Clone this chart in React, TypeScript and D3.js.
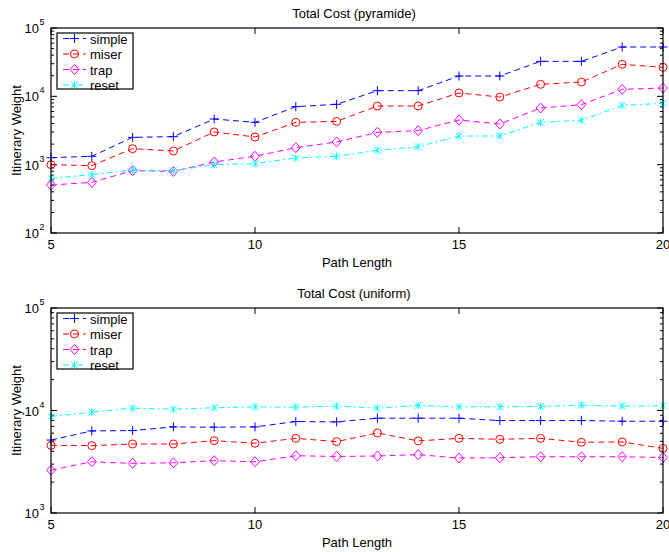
import React from "react";
import * as d3 from "d3";

const pathLength = [5, 6, 7, 8, 9, 10, 11, 12, 13, 14, 15, 16, 17, 18, 19, 20];

const pyrSimple = [1265, 1325, 2510, 2570, 4660, 4160, 7060, 7640, 12100, 12100, 19850, 19850, 32500, 32500, 52700, 52700];
const pyrMiser = [1000, 967, 1714, 1585, 3010, 2540, 4160, 4300, 7220, 7220, 11200, 9770, 15000, 16200, 29400, 26600];
const pyrTrap = [504, 551, 817, 798, 1094, 1325, 1774, 2150, 2973, 3150, 4500, 3940, 6750, 7550, 12650, 13240];
const pyrReset = [631, 714, 835, 817, 1000, 1035, 1253, 1325, 1622, 1832, 2625, 2625, 4160, 4460, 7380, 7900];

const uniSimple = [5150, 6320, 6370, 6920, 6870, 6920, 7800, 7740, 8410, 8410, 8410, 7980, 7980, 7980, 7860, 7860];
const uniMiser = [4570, 4540, 4710, 4710, 5080, 4790, 5350, 4970, 6040, 5050, 5350, 5240, 5350, 4900, 4930, 4270];
const uniTrap = [2620, 3160, 3050, 3090, 3240, 3160, 3620, 3560, 3600, 3710, 3440, 3460, 3540, 3540, 3540, 3480];
const uniReset = [8730, 9630, 10540, 10300, 10620, 10870, 10790, 11040, 10540, 11200, 10870, 10870, 10950, 11270, 11040, 11120];

const seriesNames = ["simple", "miser", "trap", "reset"];
const xTicks = [5, 10, 15, 20];

const COLORS = ["#0000ff", "#ff0000", "#ff00ff", "#00ffff"];
const DASHES = ["6,4", "6,4", "6,4", "6,3,2,3"];
const MARKERS = ["plus", "circle", "diamond", "star"];
const FONT = "'Liberation Sans', Arial, Helvetica, sans-serif";
const FS = 13;

function Marker({ type, x, y, color }: { type: string; x: number; y: number; color: string }) {
  const p = { stroke: color, fill: "none", strokeWidth: 1 };
  if (type === "plus") {
    return <path d={`M${x - 4.5},${y}H${x + 4.5}M${x},${y - 4.5}V${y + 4.5}`} {...p} />;
  }
  if (type === "circle") {
    return <circle cx={x} cy={y} r={4} {...p} />;
  }
  if (type === "diamond") {
    return <path d={`M${x},${y - 5}L${x + 4.5},${y}L${x},${y + 5}L${x - 4.5},${y}Z`} {...p} />;
  }
  const s = 3.3;
  return (
    <path
      d={`M${x - s},${y - s}L${x + s},${y + s}M${x - s},${y + s}L${x + s},${y - s}M${x},${y - s - 0.5}V${y + s + 0.5}`}
      {...p}
    />
  );
}

function Panel({
  top,
  title,
  domain,
  data,
}: {
  top: number;
  title: string;
  domain: [number, number];
  data: number[][];
}) {
  const left = 51;
  const right = 663;
  const plotTop = top + 28;
  const plotBottom = top + 233;
  const x = d3.scaleLinear().domain([5, 20]).range([left, right]);
  const y = d3.scaleLog().domain(domain).range([plotBottom, plotTop]);

  const decades: number[] = [];
  for (let e = Math.log10(domain[0]); e <= Math.log10(domain[1]) + 1e-9; e++) decades.push(Math.round(e));
  const minors: number[] = [];
  decades.slice(0, -1).forEach((e) => {
    for (let k = 2; k <= 9; k++) minors.push(k * Math.pow(10, e));
  });

  const line = d3
    .line<number>()
    .x((_, i) => x(pathLength[i]))
    .y((d) => y(d));

  const legX = 57;
  const legY = top + 33;
  const legW = 76;
  const legH = 56;

  return (
    <g fontFamily={FONT} fill="#000">
      <text x={(left + right) / 2 - 3} y={top + 18} textAnchor="middle" fontSize={FS}>
        {title}
      </text>
      {xTicks.map((t) => (
        <g key={"xt" + t}>
          <line x1={x(t)} x2={x(t)} y1={plotBottom} y2={plotBottom - 6} stroke="#000" />
          <line x1={x(t)} x2={x(t)} y1={plotTop} y2={plotTop + 6} stroke="#000" />
          <text x={x(t)} y={plotBottom + 16} textAnchor="middle" fontSize={FS}>
            {t}
          </text>
        </g>
      ))}
      {decades.map((e) => (
        <g key={"yd" + e}>
          <line x1={left} x2={left + 6} y1={y(Math.pow(10, e))} y2={y(Math.pow(10, e))} stroke="#000" />
          <line x1={right} x2={right - 6} y1={y(Math.pow(10, e))} y2={y(Math.pow(10, e))} stroke="#000" />
          <text x={left - 12} y={y(Math.pow(10, e)) + 5} textAnchor="end" fontSize={FS}>
            10
          </text>
          <text x={left - 11.5} y={y(Math.pow(10, e)) - 3} textAnchor="start" fontSize={9}>
            {e}
          </text>
        </g>
      ))}
      {minors.map((m) => (
        <g key={"ym" + m}>
          <line x1={left} x2={left + 3} y1={y(m)} y2={y(m)} stroke="#000" />
          <line x1={right} x2={right - 3} y1={y(m)} y2={y(m)} stroke="#000" />
        </g>
      ))}
      {data.map((vals, si) => (
        <g key={"s" + si}>
          <path d={line(vals) || ""} fill="none" stroke={COLORS[si]} strokeWidth={1} strokeDasharray={DASHES[si]} />
          {vals.map((v, i) => (
            <Marker key={i} type={MARKERS[si]} x={x(pathLength[i])} y={y(v)} color={COLORS[si]} />
          ))}
        </g>
      ))}
      <rect x={left} y={plotTop} width={right - left} height={plotBottom - plotTop} fill="none" stroke="#000" strokeWidth={1.2} />
      <rect x={legX} y={legY} width={legW} height={legH} fill="#fff" stroke="#000" strokeWidth={1.2} />
      {seriesNames.map((n, i) => {
        const ly = legY + 5.5 + i * 15.5;
        return (
          <g key={"lg" + n}>
            <line x1={legX + 6} x2={legX + 29} y1={ly} y2={ly} stroke={COLORS[i]} strokeDasharray={DASHES[i]} />
            <Marker type={MARKERS[i]} x={legX + 17.5} y={ly} color={COLORS[i]} />
            <text x={legX + 33} y={ly + 5} fontSize={FS}>
              {n}
            </text>
          </g>
        );
      })}
      <text x={(left + right) / 2} y={plotBottom + 34} textAnchor="middle" fontSize={FS}>
        Path Length
      </text>
      <text
        transform={`translate(${21},${(plotTop + plotBottom) / 2}) rotate(-90)`}
        textAnchor="middle"
        fontSize={FS}
      >
        Itinerary Weight
      </text>
    </g>
  );
}

export default function App() {
  return (
    <svg width={669} height={552} style={{ position: "absolute", left: 0, top: 0, background: "#fff" }}>
      <rect width={669} height={552} fill="#fff" />
      <Panel top={0} title="Total Cost (pyramide)" domain={[100, 100000]} data={[pyrSimple, pyrMiser, pyrTrap, pyrReset]} />
      <Panel top={280} title="Total Cost (uniform)" domain={[1000, 100000]} data={[uniSimple, uniMiser, uniTrap, uniReset]} />
    </svg>
  );
}
